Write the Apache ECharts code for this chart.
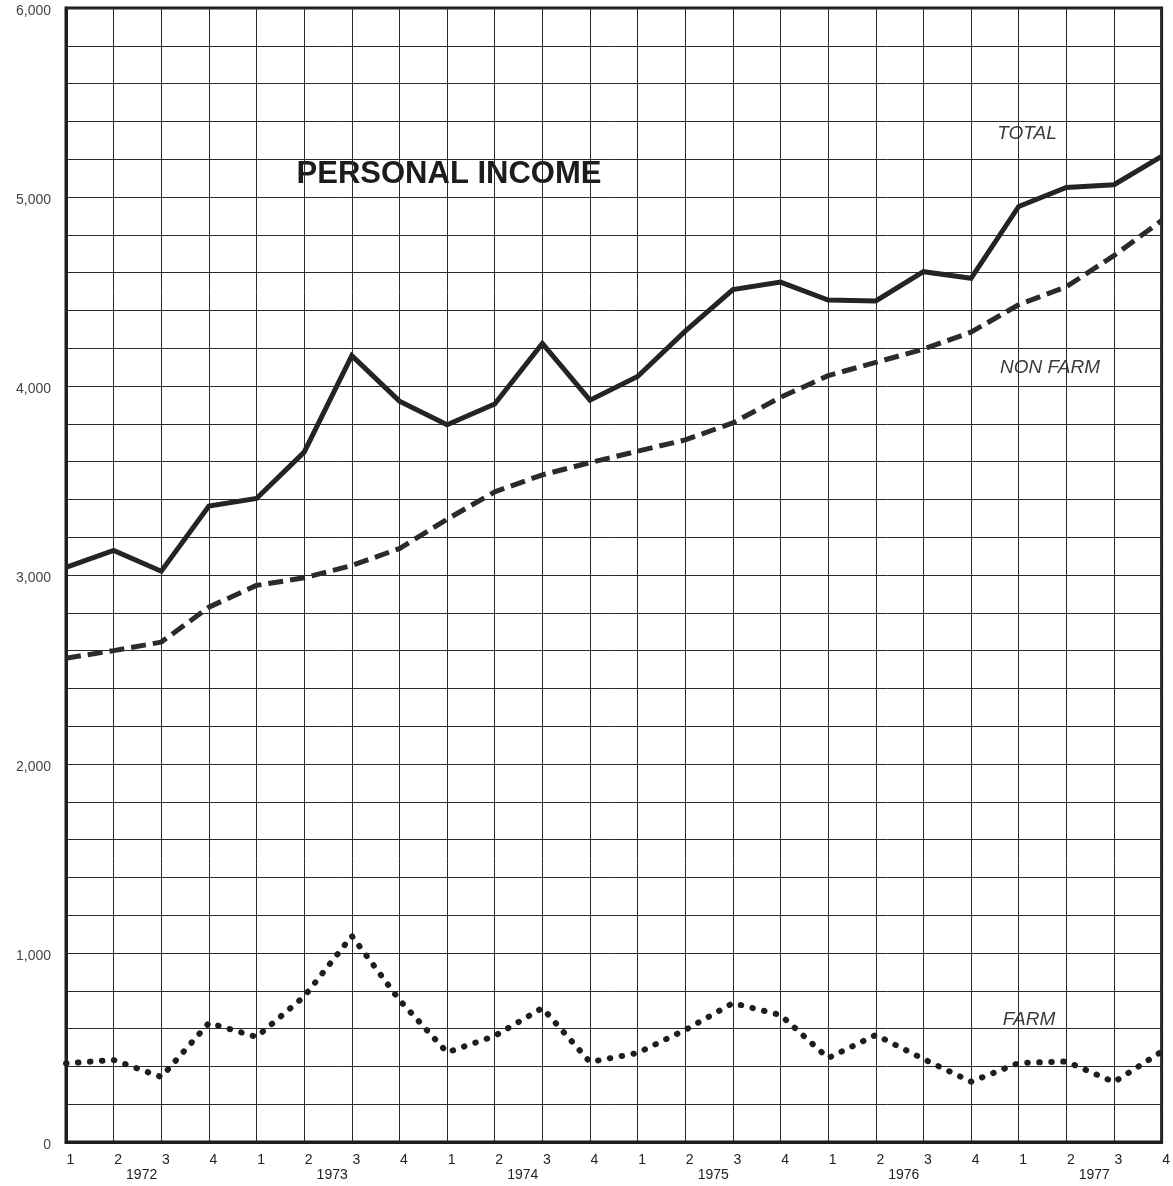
<!DOCTYPE html>
<html>
<head>
<meta charset="utf-8">
<script src="https://cdn.jsdelivr.net/npm/echarts@6/dist/echarts.min.js"></script>
<style>
html,body{margin:0;padding:0;background:#fff;}
#chart{width:1173px;height:1186px;}
</style>
</head>
<body>
<div id="chart"></div>
<script>
// Categories: quarters 1972 Q1 .. 1977 Q4
var years = ['1972', '1973', '1974', '1975', '1976', '1977'];
var quarterLabels = ['1', '2', '3', '4'];
var categories = [];
years.forEach(function (y) { quarterLabels.forEach(function (q) { categories.push(y + '-' + q); }); });

// Series values (millions of dollars)
var totalIncome = [3040, 3130, 3020, 3365, 3405, 3650, 4160, 3920,
                   3795, 3905, 4225, 3925, 4050, 4290, 4510, 4550,
                   4455, 4450, 4605, 4570, 4950, 5050, 5065, 5215];
var nonFarmIncome = [2560, 2600, 2645, 2830, 2945, 2985, 3050, 3140,
                     3295, 3440, 3530, 3595, 3655, 3715, 3805, 3940,
                     4055, 4125, 4195, 4285, 4430, 4525, 4690, 4875];
var farmIncome = [416, 434, 344, 630, 556, 770, 1090, 751,
                  474, 561, 709, 423, 471, 593, 735, 672,
                  444, 566, 439, 319, 418, 426, 317, 478];

// Y axis ticks
var yMin = 0, yMax = 6000, yStep = 200, yLabelStep = 1000;

var chart = echarts.init(document.getElementById('chart'));
var fontFamily = '"Liberation Sans", Arial, Helvetica, sans-serif';

function fmt(v) { return String(v).replace(/\B(?=(\d{3})+(?!\d))/g, ','); }

var option = {
  animation: false,
  backgroundColor: '#ffffff',
  grid: { left: 66, right: 7, top: 8, bottom: 44, show: true, borderColor: '#1e1e1e', borderWidth: 3 },
  xAxis: [{
    type: 'category',
    data: categories,
    boundaryGap: false,
    axisLine: { show: true, lineStyle: { color: '#1e1e1e', width: 3 } },
    axisTick: { show: false },
    splitLine: { show: true, lineStyle: { color: '#2a2a2a', width: 1 } },
    axisLabel: {
      interval: 0, margin: 11, color: '#222', fontSize: 14, fontFamily: fontFamily,
      formatter: function (v) { return '{q|' + v.split('-')[1] + '}'; },
      rich: { q: { padding: [0, 0, 0, 9], fontSize: 14, color: '#222', fontFamily: fontFamily } }
    }
  }, {
    type: 'category',
    data: categories,
    boundaryGap: false,
    position: 'bottom',
    axisLine: { show: false },
    axisTick: { show: false },
    splitLine: { show: false },
    axisLabel: {
      interval: 0, margin: 26, fontSize: 14, color: '#222', fontFamily: fontFamily,
      formatter: function (v, i) { return (i % 4 === 1) ? '{y|' + v.split('-')[0] + '}' : ''; },
      rich: { y: { padding: [0, 0, 0, 56], fontSize: 14, color: '#222', fontFamily: fontFamily } }
    }
  }],
  yAxis: {
    type: 'value', min: yMin, max: yMax, interval: yStep,
    axisLine: { show: true, lineStyle: { color: '#1e1e1e', width: 3 } },
    axisTick: { show: false },
    splitLine: { show: true, lineStyle: { color: '#2a2a2a', width: 1 } },
    axisLabel: {
      margin: 15, color: '#444', fontSize: 14, fontFamily: fontFamily,
      formatter: function (v) { return v % yLabelStep === 0 ? '{t|' + fmt(v) + '}' : ''; },
      rich: { t: { padding: [6, 0, 0, 0], fontSize: 14, color: '#444', fontFamily: fontFamily } }
    }
  },
  series: [{
    name: 'TOTAL', type: 'line', data: totalIncome, symbol: 'none',
    lineStyle: { color: '#242424', width: 5, join: 'miter' }
  }, {
    name: 'NON FARM', type: 'line', data: nonFarmIncome, symbol: 'none',
    lineStyle: { color: '#2b2b2b', width: 5, type: [15, 7] }
  }, {
    name: 'FARM', type: 'line', data: farmIncome, symbol: 'none',
    lineStyle: { color: '#1e1e1e', width: 6, type: [0.5, 11.5], cap: 'round' }
  }],
  graphic: [{
    type: 'text', x: 449, y: 174,
    style: { text: 'PERSONAL INCOME', font: 'bold 31px ' + fontFamily, fill: '#1c1c1c', align: 'center', verticalAlign: 'middle' }
  }, {
    type: 'text', x: 1027, y: 134,
    style: { text: 'TOTAL', font: 'italic 19px ' + fontFamily, fill: '#3a3a3a', align: 'center', verticalAlign: 'middle' }
  }, {
    type: 'text', x: 1050, y: 368,
    style: { text: 'NON FARM', font: 'italic 19px ' + fontFamily, fill: '#3a3a3a', align: 'center', verticalAlign: 'middle' }
  }, {
    type: 'text', x: 1029, y: 1020,
    style: { text: 'FARM', font: 'italic 19px ' + fontFamily, fill: '#3a3a3a', align: 'center', verticalAlign: 'middle' }
  }]
};
chart.setOption(option);
</script>
</body>
</html>
